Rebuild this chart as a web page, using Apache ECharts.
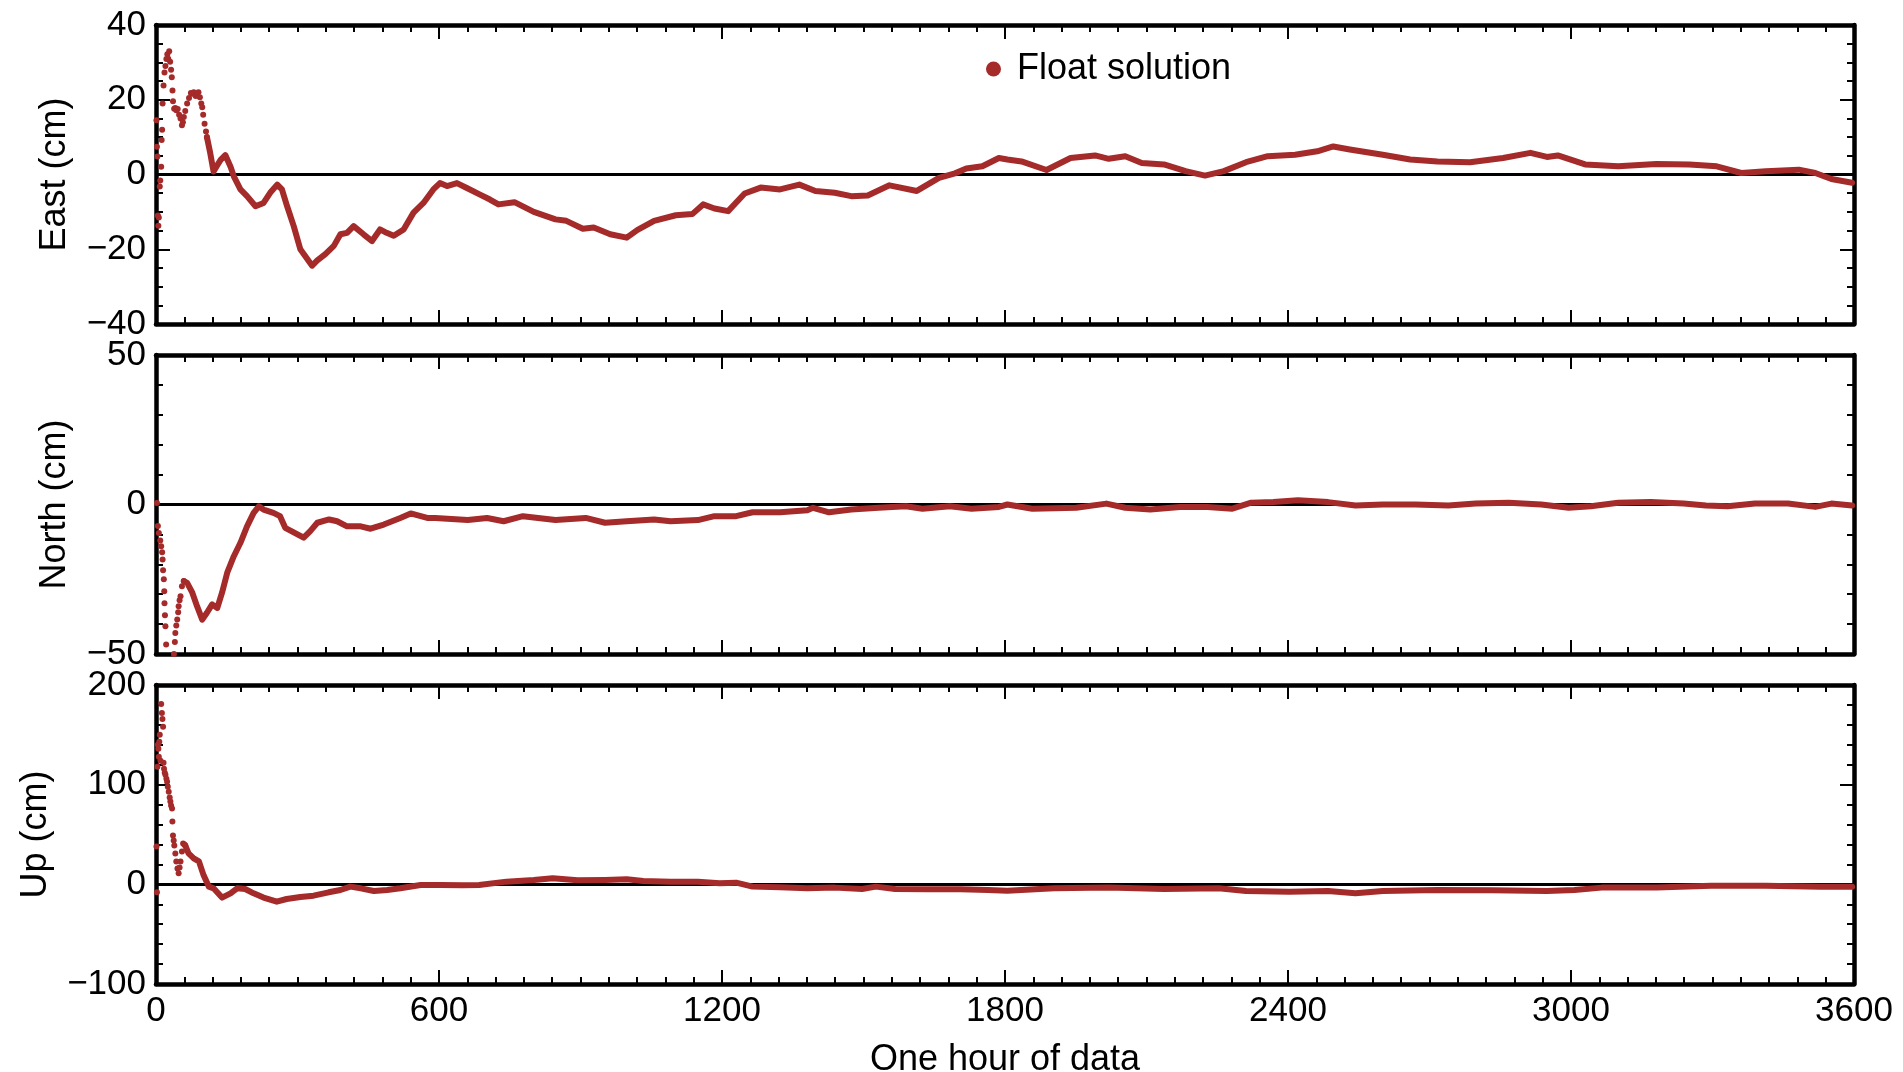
<!DOCTYPE html>
<html>
<head>
<meta charset="utf-8">
<script src="https://cdn.jsdelivr.net/npm/echarts@6/dist/echarts.min.js"></script>
<style>
html,body{margin:0;padding:0;background:#fff;}
#chart{width:1903px;height:1072px;}
</style>
</head>
<body>
<div id="chart"></div>
<script>
// ---- Data (time in s, displacement in cm) ----
const panelNames = ['East (cm)', 'North (cm)', 'Up (cm)'];
const xTicks = [0, 600, 1200, 1800, 2400, 3000, 3600];
const legendLabel = 'Float solution';

// early, sparse epochs (drawn as individual dots)
const eastEarly = [[1,14.5],[2,7.4],[3,4.8],[4,-11],[5,-13.7],[6,-11.5],[8,-3.2],[9,-1.6],[11,2.1],[12,9.2],[13,12],[14,19],[16,23.8],[18,27.3],[20,29],[22,30.9],[24,32.2],[26,31],[28,33],[30,30.2],[32,28],[33.5,26],[35,22.5],[36,19.6],[38.5,17.6],[41,17.8],[43,17.2],[46,17.5],[49,16],[52,15],[55,13.2],[57,14],[59,15.4],[62,17],[66,19],[70,20.5],[74,21.8],[77,21.6],[80,22],[84,21],[87,21.2],[90,22],[93,20.7],[96,19],[98,18],[100,16],[103,13.6],[106,11.5],[108,10]];
// converged epochs (dense trace)
const eastLate = [[108,10],[115,5.7],[122,0.8],[130,2.5],[137,3.9],[147,5.2],[158,2.1],[165,-0.5],[179,-4],[193,-5.8],[211,-8.5],[228,-7.6],[242,-4.9],[257,-2.7],[267,-4],[278,-8.5],[292,-13.8],[306,-20],[331,-24.4],[342,-23],[359,-21.3],[377,-19.1],[391,-16],[405,-15.6],[419,-13.8],[440,-16],[458,-17.8],[475,-14.7],[489,-15.6],[504,-16.4],[525,-14.7],[546,-10.2],[567,-7.6],[588,-4],[602,-2.3],[617,-3.1],[638,-2.3],[659,-3.6],[687,-5.4],[708,-6.7],[726,-8],[760,-7.4],[801,-10],[847,-12],[870,-12.4],[905,-14.5],[928,-14.2],[963,-16],[998,-16.9],[1021,-14.8],[1056,-12.4],[1102,-10.9],[1137,-10.6],[1160,-8],[1184,-9.1],[1213,-9.8],[1248,-5.1],[1282,-3.5],[1323,-4],[1364,-2.7],[1398,-4.4],[1439,-4.9],[1474,-5.8],[1509,-5.6],[1555,-2.9],[1613,-4.4],[1660,-0.9],[1694,0.3],[1718,1.6],[1752,2.2],[1787,4.4],[1805,4],[1835,3.5],[1888,1.2],[1939,4.4],[1991,5.1],[2020,4.2],[2055,4.9],[2090,3.1],[2137,2.7],[2183,0.9],[2224,-0.3],[2264,0.9],[2311,3.3],[2357,4.9],[2415,5.3],[2462,6.2],[2496,7.5],[2531,6.7],[2601,5.3],[2659,4],[2717,3.5],[2786,3.3],[2856,4.4],[2914,5.8],[2949,4.7],[2972,5.1],[3030,2.7],[3100,2.2],[3181,2.8],[3251,2.7],[3309,2.2],[3361,0.4],[3413,0.9],[3483,1.3],[3518,0.4],[3552,-1.2],[3596,-2.2]];

const northEarly = [[2,0.5],[4,-7.2],[6,-9.5],[9,-12],[11,-14],[13,-16],[14,-18.4],[15,-22],[16.6,-25],[17.5,-29],[18,-33],[19,-37],[20,-40.7],[21.5,-46.8],[24,-50.5],[27,-53],[30,-56],[33,-56],[36,-53],[38,-50],[40,-46],[41,-43],[43,-40.5],[45,-38.5],[47,-36],[48,-34],[50,-32],[52,-30.7],[55,-27.3],[59,-25.6]];
const northLate = [[59,-25.6],[66,-26.2],[77,-29.5],[87,-34],[98,-38.5],[108,-36.2],[119,-33.4],[130,-34.6],[140,-29.5],[151,-22.8],[165,-17.3],[179,-12.8],[193,-7.3],[207,-2.8],[218,-0.6],[228,-1.7],[249,-2.8],[263,-3.9],[274,-7.8],[292,-9.3],[313,-11.1],[327,-8.9],[342,-6.1],[367,-5],[384,-5.6],[405,-7.3],[434,-7.3],[455,-8.1],[483,-6.7],[518,-4.5],[540,-3],[575,-4.5],[592,-4.5],[661,-5.2],[702,-4.5],[737,-5.6],[778,-3.9],[847,-5.2],[911,-4.5],[952,-6.1],[998,-5.6],[1056,-5],[1091,-5.6],[1149,-5.2],[1184,-3.9],[1230,-3.9],[1265,-2.6],[1323,-2.6],[1381,-1.9],[1393,-1.1],[1427,-2.6],[1474,-1.7],[1532,-1.1],[1590,-0.6],[1625,-1.4],[1683,-0.6],[1729,-1.4],[1787,-0.8],[1805,0],[1858,-1.4],[1951,-1.1],[2015,0.3],[2055,-1.1],[2108,-1.7],[2171,-0.8],[2229,-0.8],[2282,-1.4],[2322,0.6],[2369,0.8],[2421,1.4],[2485,0.8],[2543,-0.3],[2601,0],[2670,0],[2740,-0.3],[2798,0.3],[2868,0.6],[2937,0],[2995,-1.1],[3042,-0.6],[3100,0.6],[3169,0.8],[3239,0.3],[3286,-0.3],[3332,-0.6],[3390,0.3],[3460,0.3],[3518,-0.8],[3552,0.3],[3596,-0.3]];

const upEarly = [[1,38],[2,-8],[3,118],[4,140],[5,136],[6,128],[7,143],[8,150],[9.5,124],[11,181],[12.5,172],[13.7,166],[15,158],[16,122],[17,116],[18.5,112],[20,110],[22,106],[23.5,103],[25,98],[27,93],[29,87],[30.5,83],[32,79],[34,76],[34.8,63],[36,49],[37.5,44],[38.8,39],[41,31],[43,23],[45.5,16],[48,11],[50,17],[52,23],[55,33],[57.5,41],[60,40],[62,39]];
const upLate = [[62,39],[69,31],[80,26],[91,23],[101,9],[112,-2.3],[122,-4],[140,-13.3],[158,-9],[172,-4],[189,-4.7],[207,-9],[228,-13.3],[256,-17.4],[277,-14.7],[306,-12.7],[334,-11.4],[366,-8],[391,-5.7],[412,-2.3],[434,-4],[462,-6.7],[490,-5.7],[518,-4],[561,-0.7],[603,-0.7],[650,-1],[685,-0.7],[743,2.7],[801,4.3],[841,6],[894,4],[952,4.3],[998,5],[1033,3.3],[1091,2.7],[1149,2.7],[1195,1],[1230,1.7],[1265,-2.3],[1323,-3],[1381,-4],[1439,-3.3],[1497,-4.7],[1526,-2.3],[1567,-4.7],[1636,-5],[1706,-5],[1764,-5.7],[1805,-6.4],[1904,-4],[2020,-3.3],[2137,-4.7],[2253,-4],[2311,-6.7],[2403,-7.4],[2485,-6.7],[2543,-9],[2601,-6.7],[2717,-5.7],[2833,-6],[2949,-6.7],[3007,-5.7],[3065,-3.3],[3181,-3.3],[3297,-1.3],[3413,-1.3],[3529,-2.3],[3596,-2.3]];

const yRanges = [
  {min: -40, max: 40, interval: 20, minor: 4},
  {min: -50, max: 50, interval: 50, minor: 5},
  {min: -100, max: 200, interval: 100, minor: 5}
];
const earlySets = [eastEarly, northEarly, upEarly];
const lateSets = [eastLate, northLate, upLate];

// ---- Styling ----
const FONT = '"Liberation Sans", Arial, Helvetica, sans-serif';
const RED = '#a52a2a';
const FS = 35;
const FS_NAME = 36;
const gridTops = [25, 355, 685];
const nameGaps = [83, 83, 102];

const grid = gridTops.map(t => ({left: 156, width: 1698, top: t, height: 299, containLabel: false, outerBoundsMode: 'none'}));
const minus = v => String(v).replace('-', '\u2212');

const xAxis = [];
const yAxis = [];
const series = [];
for (let i = 0; i < 3; i++) {
  const common = {
    type: 'value', gridIndex: i, min: xTicks[0], max: xTicks[xTicks.length - 1],
    interval: xTicks[1] - xTicks[0],
    axisLine: {show: true, onZero: false, lineStyle: {color: '#000', width: 4.5}},
    axisTick: {show: true, inside: true, length: 14, lineStyle: {color: '#000', width: 2}},
    minorTick: {show: true, splitNumber: 10, length: 7, lineStyle: {color: '#000', width: 2}},
    splitLine: {show: false}
  };
  xAxis.push(Object.assign({}, common, {
    position: 'bottom',
    axisLabel: {show: i === 2, color: '#000', fontSize: FS, fontFamily: FONT, margin: 10, formatter: v => String(v)},
    name: i === 2 ? 'One hour of data' : '',
    nameLocation: 'middle', nameGap: 58,
    nameTextStyle: {color: '#000', fontSize: FS_NAME, fontFamily: FONT}
  }));
  xAxis.push(Object.assign({}, common, {position: 'top', axisLabel: {show: false}}));

  const r = yRanges[i];
  const ycommon = {
    type: 'value', gridIndex: i, min: r.min, max: r.max, interval: r.interval,
    axisLine: {show: true, onZero: false, lineStyle: {color: '#000', width: 4.5}},
    axisTick: {show: true, inside: true, length: 14, lineStyle: {color: '#000', width: 2}},
    minorTick: {show: true, splitNumber: r.minor, length: 7, lineStyle: {color: '#000', width: 2}},
    splitLine: {show: false}
  };
  yAxis.push(Object.assign({}, ycommon, {
    position: 'left',
    axisLabel: {color: '#000', fontSize: FS, fontFamily: FONT, margin: 10, formatter: minus},
    name: panelNames[i], nameLocation: 'middle', nameRotate: 90, nameGap: nameGaps[i],
    nameTextStyle: {color: '#000', fontSize: FS_NAME, fontFamily: FONT}
  }));
  yAxis.push(Object.assign({}, ycommon, {position: 'right', axisLabel: {show: false}}));

  series.push({
    name: legendLabel, type: 'scatter', xAxisIndex: 2 * i, yAxisIndex: 2 * i,
    data: earlySets[i], symbol: 'circle', symbolSize: 6,
    itemStyle: {color: RED, opacity: 1}, z: 3, silent: true, clip: true,
    markLine: {
      silent: true, symbol: 'none', label: {show: false},
      lineStyle: {color: '#000', width: 3, type: 'solid'},
      data: [{yAxis: 0}], z: 1, animation: false
    }
  });
  series.push({
    name: legendLabel, type: 'line', xAxisIndex: 2 * i, yAxisIndex: 2 * i,
    data: lateSets[i], showSymbol: false, smooth: false,
    lineStyle: {color: RED, width: 6, join: 'round', cap: 'round'}, itemStyle: {color: RED}, z: 4, silent: true, clip: true
  });
}

const chart = echarts.init(document.getElementById('chart'), null, {renderer: 'canvas'});
chart.setOption({
  animation: false,
  backgroundColor: '#fff',
  grid: grid,
  xAxis: xAxis,
  yAxis: yAxis,
  legend: {
    data: [{name: legendLabel, icon: 'circle', itemStyle: {color: RED, opacity: 1}}],
    left: 986, top: 51, padding: 0,
    itemWidth: 15, itemHeight: 15,
    textStyle: {color: '#000', fontSize: FS_NAME, fontFamily: FONT, padding: [0, 0, 0, 11]},
    selectedMode: false
  },
  series: series
});
</script>
</body>
</html>
